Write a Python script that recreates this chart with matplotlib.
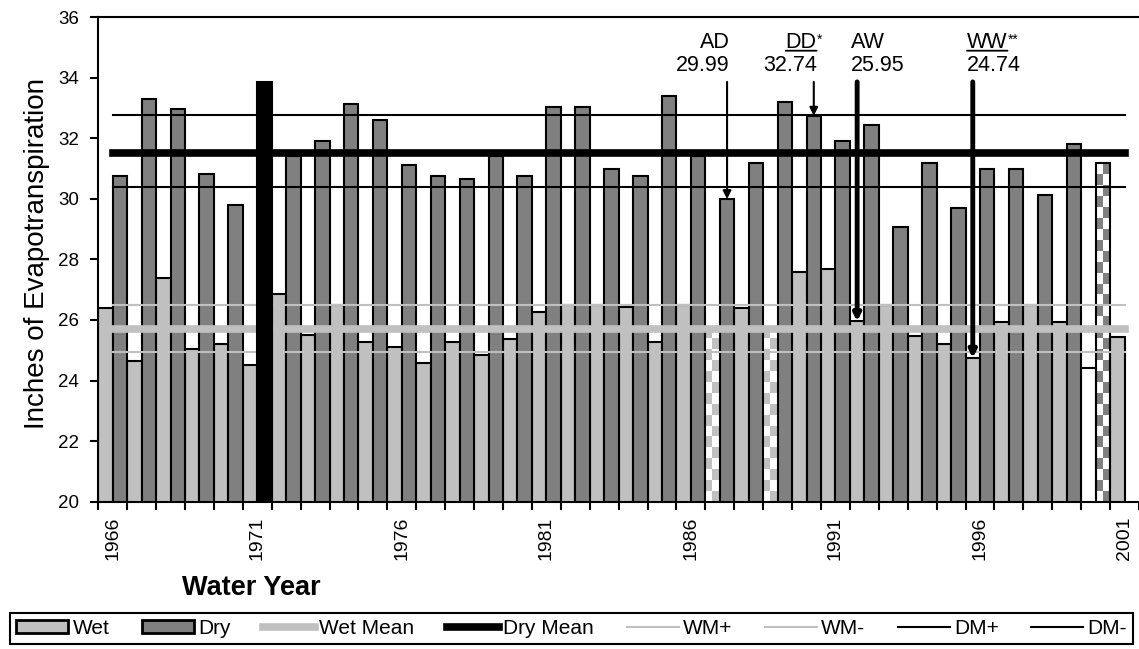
import numpy as np
import matplotlib.pyplot as plt
from matplotlib.colors import ListedColormap
from matplotlib.lines import Line2D
from matplotlib.patches import Patch

plt.rcParams['font.family'] = ['Liberation Sans', 'DejaVu Sans']

# water years and evapotranspiration (inches)
years = list(range(1966, 2002))
wet = [26.38, 24.64, 27.40, 25.03, 25.21, 24.51, 26.85, 25.50, 26.50, 25.28,
       25.12, 24.57, 25.28, 24.84, 25.37, 26.25, 26.50, 26.50, 26.42, 25.28,
       26.50, 25.70, 26.38, 25.70, 27.59, 27.67, 25.95, 26.50, 25.47, 25.19,
       24.74, 25.92, 26.50, 25.92, 24.40, 25.45]
dry = [30.75, 33.29, 32.95, 30.83, 29.79, 33.85, 31.42, 31.91, 33.13, 32.60,
       31.11, 30.75, 30.66, 31.41, 30.75, 33.02, 33.02, 31.00, 30.75, 33.39,
       31.41, 29.99, 31.19, 33.21, 32.74, 31.91, 32.43, 29.08, 31.17, 29.69,
       31.00, 31.00, 30.13, 31.80, 31.17, np.nan]

wet_mean, wm_plus, wm_minus = 25.71, 26.49, 24.93
dry_mean, dm_plus, dm_minus = 31.52, 32.78, 30.39

wet_checker_years = [1987, 1989]
dry_checker_years = [2000]
wet_open_years = [2000]
dry_max_year = 1971

# (label, superscript, year, series) for the called-out years
notes = [("AD", "", 1987, "dry"),
         ("DD", "*", 1990, "dry"),
         ("AW", "", 1992, "wet"),
         ("WW", "**", 1996, "wet")]

legend_labels = ["Wet", "Dry", "Wet Mean", "Dry Mean", "WM+", "WM-", "DM+", "DM-"]
label_years = years[::5]

light, dark = "#c0c0c0", "#808080"
x = np.arange(len(years))
wet = np.array(wet)
dry = np.array(dry)


def checker_fill(ax, bar, color, cell=0.36, zorder=1.9):
    y0 = ax.get_ylim()[0]
    x0, x1 = bar.get_x(), bar.get_x() + bar.get_width()
    y1 = bar.get_y() + bar.get_height()
    rows = int(np.ceil((y1 - y0) / cell))
    grid = np.add.outer(np.arange(rows), np.arange(2)) % 2
    im = ax.imshow(grid, extent=(x0, x1, y0, y0 + rows * cell), origin="lower",
                   cmap=ListedColormap(["white", color]), interpolation="nearest",
                   aspect="auto", zorder=zorder)
    im.set_clip_path(bar)


fig = plt.figure(figsize=(11.39, 6.49), dpi=100)
ax = fig.add_axes([0.0863, 0.2270, 0.9137, 0.7467])
ax.set_xlim(-0.5, len(years) - 0.5)
ax.set_ylim(20, 36)

# wet bars on the left half of each year, dry bars on the right half
wet_face, wet_edge = [], []
for y in years:
    if y in wet_checker_years:
        wet_face.append("none"); wet_edge.append("none")
    elif y in wet_open_years:
        wet_face.append("white"); wet_edge.append("black")
    else:
        wet_face.append(light); wet_edge.append("black")
wet_bars = ax.bar(x - 0.25, wet, width=0.5, color=wet_face, edgecolor=wet_edge,
                  linewidth=1.5, zorder=2)

keep = [i for i, y in enumerate(years) if y != dry_max_year and not np.isnan(dry[i])]
dry_face = ["none" if years[i] in dry_checker_years else dark for i in keep]
dry_bars = ax.bar(x[keep] + 0.25, dry[keep], width=0.5, color=dry_face,
                  edgecolor="black", linewidth=1.5, zorder=2)

for i, y in enumerate(years):
    if y in wet_checker_years:
        checker_fill(ax, wet_bars[i], light)
for bar, i in zip(dry_bars, keep):
    if years[i] in dry_checker_years:
        checker_fill(ax, bar, dark)

# means and their bands
ends = [x[0], x[-1]]
ax.plot(ends, [wet_mean] * 2, color=light, lw=5.5, zorder=3)
ax.plot(ends, [wm_plus] * 2, color=light, lw=1.5, zorder=3)
ax.plot(ends, [wm_minus] * 2, color=light, lw=1.5, zorder=3)
ax.plot(ends, [dry_mean] * 2, color="black", lw=5.5, zorder=3)
ax.plot(ends, [dm_plus] * 2, color="black", lw=1.5, zorder=3)
ax.plot(ends, [dm_minus] * 2, color="black", lw=1.5, zorder=3)

# highest dry year sits over the lines
imax = years.index(dry_max_year)
ax.bar(x[imax] + 0.25, dry[imax], width=0.5, color="black", edgecolor="black",
       linewidth=1.5, zorder=4)

for label, sup, year, series in notes:
    i = years.index(year)
    if series == "dry":
        xc, top = x[i] + 0.25, dry[i]
        lw, ms, tx, ha = 1.5, 12, xc + 0.1, "right"
    else:
        xc, top = x[i] - 0.25, wet[i]
        lw, ms, tx, ha = 3.5, 10, xc - 0.2, "left"
    ax.annotate("", xy=(xc, top), xytext=(xc, 33.86),
                arrowprops=dict(arrowstyle="-|>", color="black", lw=lw,
                                mutation_scale=ms, shrinkA=0, shrinkB=0),
                zorder=6)
    ax.text(tx, 34.05, f"{top:.2f}", ha=ha, va="bottom", fontsize=15.5, zorder=6)
    name = ax.annotate(label, xy=(tx, 34.05), xytext=(0, 16.5),
                       textcoords="offset points", ha=ha, va="bottom",
                       fontsize=15.5, zorder=6)
    if sup:
        ax.annotate(sup, xy=(1, 0.95), xycoords=name, ha="left", va="top",
                    fontsize=10, zorder=6)
        ax.annotate("", xy=(1, 0.12), xycoords=name, xytext=(0, 0.12),
                    textcoords=name,
                    arrowprops=dict(arrowstyle="-", color="black", lw=1.3,
                                    shrinkA=0, shrinkB=0), zorder=6)

ax.set_xlim(-0.5, len(years) - 0.5)
ax.set_ylim(20, 36)
ax.set_yticks(np.arange(20, 37, 2))
ax.set_xticks(np.arange(-0.5, len(years)), labels=[])
ax.set_xticks([years.index(y) for y in label_years],
              labels=[str(y) for y in label_years], minor=True)
ax.tick_params(axis="x", which="major", length=6, width=1.5, direction="out")
ax.tick_params(axis="x", which="minor", length=0, pad=11, labelsize=14,
               labelrotation=90)
ax.tick_params(axis="y", length=6, width=1.5, pad=8, labelsize=13.5)
for side in ["left", "bottom", "top"]:
    ax.spines[side].set_linewidth(1.5)
ax.spines["right"].set_visible(False)

fig.text(37 / 1139, 1 - 253.5 / 649, "Inches of Evapotranspiration",
         rotation=90, ha="center", va="center", fontsize=20)
fig.text(251 / 1139, 1 - 588 / 649, "Water Year", ha="center", va="center",
         fontsize=19.5, fontweight="bold")

handles = [Patch(facecolor=light, edgecolor="black", linewidth=2),
           Patch(facecolor=dark, edgecolor="black", linewidth=2),
           Line2D([], [], color=light, lw=5.5),
           Line2D([], [], color="black", lw=5.5),
           Line2D([], [], color=light, lw=1.5),
           Line2D([], [], color=light, lw=1.5),
           Line2D([], [], color="black", lw=1.5),
           Line2D([], [], color="black", lw=1.5)]
leg = fig.legend(handles, legend_labels, loc="center",
                 bbox_to_anchor=(10 / 1139, 4 / 649, 1123 / 1139, 33 / 649),
                 mode="expand", ncol=8, frameon=True, fancybox=False,
                 edgecolor="black", framealpha=1, borderpad=0.3,
                 handlelength=2.5, handleheight=0.6, handletextpad=0.2,
                 borderaxespad=0, fontsize=15)
leg.get_frame().set_linewidth(1.5)

fig.savefig("out.png", dpi=100)
